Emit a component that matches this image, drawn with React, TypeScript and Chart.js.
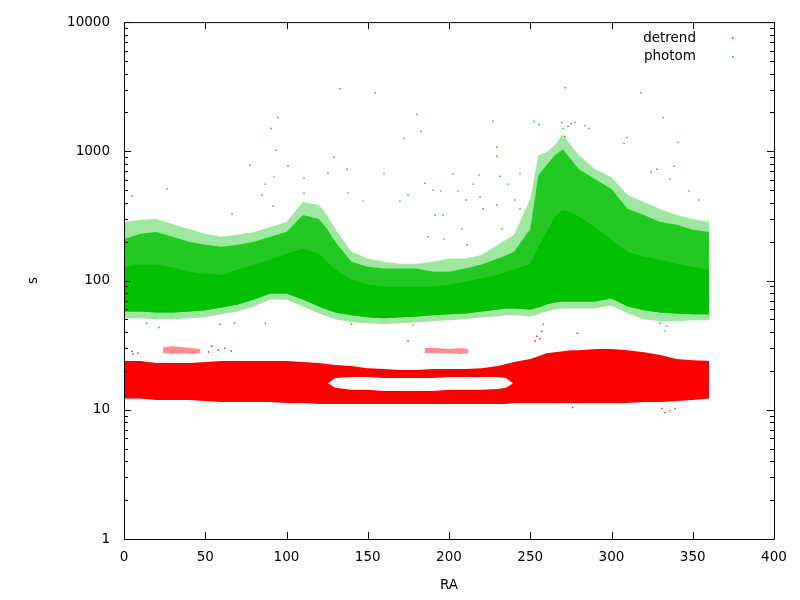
import React, { useEffect, useRef } from "react";
import { Chart, registerables } from "chart.js";

Chart.register(...registerables);

const raGrid = [0, 10, 20, 30, 40, 50, 60, 70, 80, 90, 100, 110, 120, 125, 130, 140, 150, 160, 170, 180, 190, 200, 210, 220, 230, 235, 240, 250, 255, 260, 265, 270, 275, 280, 290, 300, 310, 320, 330, 340, 350, 360];

// photom (green) cloud: sparse top, speckled top, solid core top/bottom, sparse bottom
const photomSparseHi = [284, 295, 300, 274, 251, 230, 218, 226, 238, 260, 284, 405, 384, 322, 251, 167, 148, 140, 135, 135, 140, 148, 148, 158, 189, 207, 226, 427, 932, 982, 1112, 1351, 1112, 932, 727, 631, 459, 405, 358, 322, 300, 284];
const photomSpeckHi = [210, 230, 238, 218, 200, 189, 183, 189, 200, 218, 238, 322, 300, 251, 200, 140, 128, 124, 124, 124, 117, 117, 124, 133, 148, 156, 167, 251, 654, 780, 932, 1036, 868, 727, 609, 510, 358, 322, 284, 270, 247, 238];
const photomCoreHi = [128, 133, 133, 126, 117, 113, 111, 122, 133, 145, 161, 176, 161, 140, 122, 102, 93, 90, 90, 90, 90, 93, 98, 104, 111, 117, 122, 135, 183, 238, 311, 352, 339, 311, 260, 207, 167, 153, 145, 135, 128, 122];
const photomCoreLo = [57.7, 57.7, 56.7, 56.7, 57.7, 58.8, 62.0, 65.4, 71.4, 79.4, 79.4, 71.4, 63.1, 59.8, 56.7, 53.8, 51.9, 51.0, 51.9, 52.8, 53.8, 54.8, 55.7, 57.7, 59.8, 60.9, 60.9, 59.8, 62.0, 65.4, 67.7, 68.9, 68.9, 68.9, 68.9, 72.7, 63.1, 58.8, 56.7, 55.7, 54.8, 54.8];
const photomSparseLo = [51.0, 51.0, 50.1, 50.1, 51.0, 51.9, 54.8, 57.7, 63.1, 71.4, 71.4, 63.1, 55.7, 52.8, 50.1, 47.5, 46.7, 45.9, 46.7, 47.5, 48.4, 49.2, 50.1, 51.9, 52.8, 53.8, 53.8, 52.8, 54.8, 57.7, 59.8, 60.9, 60.9, 60.9, 60.9, 64.2, 55.7, 50.1, 48.4, 48.4, 49.2, 49.2];

// detrend (red) cloud: top, the split with its gap (RA 130-235), bottom
const detrendTop = [23.8, 23.8, 23.0, 23.0, 23.0, 23.4, 23.8, 23.8, 23.8, 23.8, 23.8, 23.4, 23.0, 22.6, 22.2, 21.8, 21.0, 20.7, 20.3, 20.3, 20.7, 20.7, 20.7, 21.0, 21.8, 22.6, 23.4, 24.7, 26.0, 27.4, 27.9, 28.4, 28.9, 28.9, 29.5, 29.5, 28.9, 27.9, 26.5, 24.7, 24.2, 23.8];
const detrendGapHi = [15.8, 15.8, 15.8, 15.8, 15.8, 15.8, 15.8, 15.8, 15.8, 15.8, 15.8, 15.8, 15.8, 15.8, 17.6, 17.9, 17.9, 17.6, 17.6, 17.6, 17.6, 17.9, 17.9, 17.9, 17.9, 17.6, 15.8, 15.8, 15.8, 15.8, 15.8, 15.8, 15.8, 15.8, 15.8, 15.8, 15.8, 15.8, 15.8, 15.8, 15.8, 15.8];
const detrendGapLo = [16.2, 16.2, 16.2, 16.2, 16.2, 16.2, 16.2, 16.2, 16.2, 16.2, 16.2, 16.2, 16.2, 16.2, 14.8, 14.3, 14.3, 14.0, 14.0, 14.0, 14.0, 14.3, 14.3, 14.3, 14.5, 14.8, 16.2, 16.2, 16.2, 16.2, 16.2, 16.2, 16.2, 16.2, 16.2, 16.2, 16.2, 16.2, 16.2, 16.2, 16.2, 16.2];
const detrendBottom = [12.2, 12.2, 11.9, 11.9, 11.9, 11.7, 11.5, 11.5, 11.5, 11.5, 11.3, 11.3, 11.1, 11.1, 11.1, 11.1, 11.1, 11.1, 11.1, 11.1, 11.1, 11.1, 11.1, 11.1, 11.1, 11.1, 11.3, 11.3, 11.3, 11.3, 11.3, 11.3, 11.3, 11.3, 11.3, 11.3, 11.3, 11.5, 11.5, 11.7, 11.9, 12.2];

// small red clumps sitting above the band
const clumpARa = [24, 30, 36, 42, 47];
const clumpALo = [27.5, 27.0, 27.4, 27.0, 27.5];
const clumpAHi = [30.5, 31.0, 30.5, 30.0, 29.5];
const clumpBRa = [185, 192, 200, 207, 212];
const clumpBLo = [27.5, 27.4, 27.4, 27.0, 27.4];
const clumpBHi = [30.0, 30.0, 29.5, 30.0, 29.5];

// isolated points
const photomOutRa = [4.9, 26.5, 66.5, 77.5, 84.9, 86.8, 90.5, 93.5, 94.8, 91.7, 92.3, 100.9, 110.8, 110.8, 125.5, 129.2, 132.9, 137.2, 137.8, 147.1, 154.5, 160, 169.8, 172.3, 174.8, 180.3, 182.8, 185.2, 187.1, 190.2, 191.4, 195.1, 196.3, 196.9, 202.5, 205.5, 208, 210.5, 211.1, 214.8, 218.5, 219.1, 220.9, 227.1, 229.5, 229.5, 229.5, 231.4, 232.6, 236.3, 240.6, 243.7, 243.7, 252.3, 255.4, 269.5, 270.2, 271.4, 271.4, 273.2, 275.1, 277.5, 283.7, 286.2, 307.7, 309.5, 318.2, 324.3, 328, 331.7, 336, 338.5, 340.9, 347.7, 353.8, 14, 21.5, 59, 68, 87, 140, 178, 258, 330, 333, 334];
const photomOutS = [451, 510, 327, 780, 459, 557, 1503, 1018, 1827, 378, 631, 767, 620, 475, 677, 899, 3053, 727, 475, 412, 2843, 666, 412, 1259, 459, 1927, 1425, 567, 218, 501, 322, 492, 322, 210, 666, 492, 251, 420, 189, 557, 654, 443, 358, 1701, 1074, 915, 384, 642, 251, 557, 420, 666, 358, 1701, 1614, 1671, 1503, 3105, 1304, 1557, 1642, 1671, 1585, 1503, 1153, 1282, 2843, 689, 727, 1827, 609, 767, 1172, 492, 420, 46.7, 43.3, 45.9, 46.7, 46.7, 45.9, 45.0, 45.9, 46.7, 40.6, 44.2];
const detrendOutRa = [4.9, 8.6, 5.5, 52, 54, 58, 62, 66, 174.8, 253, 254, 256, 257, 279, 276, 331, 333, 336, 339];
const detrendOutS = [28.4, 27.4, 27.0, 28, 31, 29, 30, 28.5, 34.1, 34.1, 37.1, 35.4, 40.5, 39.0, 10.4, 10.2, 9.5, 9.8, 10.2];

const xTicks = [0, 50, 100, 150, 200, 250, 300, 350, 400];
const yTicks = [1, 10, 100, 1000, 10000];

const RED = "#ff0000";
const GREEN = "#00c000";
const FONT = "'DejaVu Sans', sans-serif";

const pts = (xs: number[], ys: number[]) => xs.map((x, i) => ({ x, y: ys[i] }));

// two edge lines, the second filled down to the first
const band = (xs: number[], lo: number[], hi: number[], color: string, order: number) => [
  {
    data: pts(xs, lo),
    borderColor: "rgba(0,0,0,0)",
    borderWidth: 0,
    pointRadius: 0,
    fill: false,
    order,
  },
  {
    data: pts(xs, hi),
    borderColor: "rgba(0,0,0,0)",
    borderWidth: 0,
    pointRadius: 0,
    fill: "-1",
    backgroundColor: color,
    order,
  },
];

const dots = (xs: number[], ys: number[], color: string) => ({
  data: pts(xs, ys),
  showLine: false,
  pointStyle: "rect",
  pointRadius: 1,
  pointBorderWidth: 0,
  pointBackgroundColor: color,
  borderColor: color,
  order: 0,
});

// gnuplot style frame with inward ticks on all four sides + the key
const framePlugin = {
  id: "gnuFrame",
  afterDatasetsDraw(c: any) {
    const { ctx, chartArea: a, scales } = c;
    const xs = scales.x;
    const ys = scales.y;
    ctx.save();
    ctx.strokeStyle = "#000";
    ctx.lineWidth = 1;
    ctx.beginPath();
    ctx.rect(a.left + 0.5, a.top + 0.5, a.right - a.left, a.bottom - a.top);
    const hline = (y: number, len: number) => {
      y = Math.round(y) + 0.5;
      ctx.moveTo(a.left, y);
      ctx.lineTo(a.left + len, y);
      ctx.moveTo(a.right, y);
      ctx.lineTo(a.right - len, y);
    };
    yTicks.forEach((v, i) => {
      hline(ys.getPixelForValue(v), 7);
      if (i < yTicks.length - 1) {
        for (let m = 2; m < 10; m++) hline(ys.getPixelForValue(v * m), 4);
      }
    });
    xTicks.forEach((v) => {
      const x = Math.round(xs.getPixelForValue(v)) + 0.5;
      ctx.moveTo(x, a.bottom);
      ctx.lineTo(x, a.bottom - 7);
      ctx.moveTo(x, a.top);
      ctx.lineTo(x, a.top + 7);
    });
    ctx.stroke();

    ctx.font = `13.5px ${FONT}`;
    ctx.fillStyle = "#000";
    ctx.textAlign = "right";
    ctx.textBaseline = "alphabetic";
    ctx.fillText("detrend", a.right - 78, a.top + 20);
    ctx.fillText("photom", a.right - 78, a.top + 38);
    ctx.fillStyle = RED;
    ctx.fillRect(a.right - 42, a.top + 15, 1.5, 1.5);
    ctx.fillStyle = GREEN;
    ctx.fillRect(a.right - 42, a.top + 34, 1.5, 1.5);
    ctx.restore();
  },
};

export default function App() {
  const canvas = useRef<HTMLCanvasElement>(null);

  useEffect(() => {
    Chart.defaults.font.family = FONT;
    Chart.defaults.font.size = 13.5;
    Chart.defaults.color = "#000";

    const chart = new Chart(canvas.current as HTMLCanvasElement, {
      type: "line",
      data: {
        datasets: [
          dots(photomOutRa, photomOutS, GREEN),
          dots(detrendOutRa, detrendOutS, RED),
          ...band(clumpARa, clumpALo, clumpAHi, "rgba(255,0,0,0.45)", 2),
          ...band(clumpBRa, clumpBLo, clumpBHi, "rgba(255,0,0,0.45)", 2),
          ...band(raGrid, detrendBottom, detrendGapLo, RED, 3),
          ...band(raGrid, detrendGapHi, detrendTop, RED, 3),
          ...band(raGrid, photomCoreLo, photomCoreHi, GREEN, 4),
          ...band(raGrid, photomCoreLo, photomSpeckHi, "rgba(0,192,0,0.78)", 5),
          ...band(raGrid, photomSparseLo, photomSparseHi, "rgba(0,192,0,0.38)", 6),
        ] as any,
      },
      options: {
        animation: false,
        responsive: false,
        devicePixelRatio: 1,
        layout: { padding: { top: 19, right: 26, left: 0, bottom: 0 } },
        elements: { line: { tension: 0 } },
        plugins: {
          legend: { display: false },
          tooltip: { enabled: false },
        },
        scales: {
          x: {
            type: "linear",
            min: 0,
            max: 400,
            grid: { display: false, drawTicks: false },
            border: { display: false },
            afterBuildTicks: (s: any) => {
              s.ticks = xTicks.map((value) => ({ value }));
            },
            afterFit: (s: any) => {
              s.height = 61;
            },
            ticks: { padding: 10, maxRotation: 0, autoSkip: false },
            title: { display: true, text: "RA", padding: { top: 0, bottom: 6 } },
          },
          y: {
            type: "logarithmic",
            min: 1,
            max: 10000,
            grid: { display: false, drawTicks: false },
            border: { display: false },
            afterBuildTicks: (s: any) => {
              s.ticks = yTicks.map((value) => ({ value }));
            },
            afterFit: (s: any) => {
              s.width = 124;
            },
            ticks: {
              padding: 14,
              autoSkip: false,
              callback: (v: any) => String(v),
            },
            title: { display: true, text: "s", padding: { top: 25, bottom: 0 } },
          },
        },
      },
      plugins: [framePlugin],
    });
    return () => chart.destroy();
  }, []);

  return (
    <div style={{ position: "absolute", left: 0, top: 0, width: 800, height: 600, background: "#fff" }}>
      <canvas ref={canvas} width={800} height={600}></canvas>
    </div>
  );
}
